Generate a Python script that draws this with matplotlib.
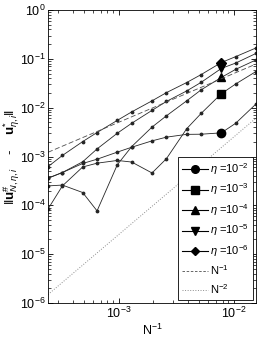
import matplotlib
matplotlib.use('Agg')
import matplotlib.pyplot as plt
import numpy as np
from matplotlib.lines import Line2D

plt.rcParams['font.family'] = ['Liberation Sans', 'DejaVu Sans']
plt.rcParams['mathtext.fontset'] = 'custom'
plt.rcParams['mathtext.rm'] = 'Liberation Sans'
plt.rcParams['mathtext.it'] = 'Liberation Sans:italic'
plt.rcParams['mathtext.bf'] = 'Liberation Sans:bold'

# number of points N (x axis is 1/N)
N = np.array([4096, 3072, 2048, 1536, 1024, 768, 512, 384, 256, 192, 128, 96, 64])

# error for each eta
err_e2 = [3.6e-4, 4.7e-4, 7.2e-4, 8.8e-4, 1.23e-3, 1.55e-3, 2.09e-3, 2.49e-3, 2.84e-3, 2.86e-3, 3.05e-3, 4.8e-3, 1.19e-2]
err_e3 = [8.4e-5, 2.5e-4, 6.1e-4, 7.3e-4, 8.3e-4, 7.7e-4, 4.6e-4, 9.0e-4, 3.7e-3, 7.6e-3, 1.93e-2, 3.06e-2, 5.5e-2]
err_e4 = [2.5e-4, 2.6e-4, 1.83e-4, 7.7e-5, 6.8e-4, 1.6e-3, 4.0e-3, 6.8e-3, 1.38e-2, 2.31e-2, 4.16e-2, 6.1e-2, 9.5e-2]
err_e5 = [3.6e-4, 4.7e-4, 7.8e-4, 1.43e-3, 3.0e-3, 4.8e-3, 8.8e-3, 1.34e-2, 2.2e-2, 3.29e-2, 6.36e-2, 8.2e-2, 0.129]
err_e6 = [6.2e-4, 1.05e-3, 2.02e-3, 3.1e-3, 5.5e-3, 8.2e-3, 1.38e-2, 2.03e-2, 3.27e-2, 4.75e-2, 8.4e-2, 0.111, 0.167]

series = [err_e2, err_e3, err_e4, err_e5, err_e6]
labels = [r'$\eta$ =10$^{-2}$', r'$\eta$ =10$^{-3}$', r'$\eta$ =10$^{-4}$',
          r'$\eta$ =10$^{-5}$', r'$\eta$ =10$^{-6}$']
markers = ['o', 's', '^', 'v', 'D']
N_mark = 128

# reference slopes
c1 = 5.0
c2 = 25.0

fig = plt.figure(figsize=(2.66, 3.41), dpi=100)
ax = fig.add_axes([0.1805, 0.1114, 0.7819, 0.8593])

x = 1.0 / N
handles = []
for err, m, lab in zip(series, markers, labels):
    err = np.array(err)
    ax.plot(x, err, '-', color='0.15', lw=0.6, marker='.', ms=3.5)
    i = np.where(N == N_mark)[0][0]
    ms = 5 if m == 'D' else 6
    ax.plot(x[i], err[i], marker=m, color='k', ms=ms, ls='none')
    handles.append(Line2D([], [], color='k', lw=0.8, marker=m, ms=ms - 0.5, label=lab))

ax.plot(x, c1 / N, '--', color='0.3', lw=0.6, dashes=(6, 3))
ax.plot(x, c2 / N.astype(float)**2, ':', color='0.55', lw=0.7)
handles.append(Line2D([], [], color='0.3', lw=0.6, ls='--', dashes=(3, 2), label=r'N$^{-1}$'))
handles.append(Line2D([], [], color='0.55', lw=0.7, ls=':', label=r'N$^{-2}$'))

ax.set_xscale('log')
ax.set_yscale('log')
ax.set_xlim(1.0 / 4096, 1.0 / 64)
ax.set_ylim(1e-6, 1e0)
ax.tick_params(which='both', direction='in', top=True, right=True, labelsize=9, pad=2)
ax.tick_params(which='major', length=3.5, width=0.6)
ax.tick_params(which='minor', length=2, width=0.5)
for s in ax.spines.values():
    s.set_linewidth(0.6)

ax.set_xlabel(r'N$^{-1}$', fontsize=9, labelpad=1)
ax.set_ylabel(r'$\|\mathbf{u}^{\#}_{N,\eta,i}$    -    $\mathbf{u}^{*}_{\eta,i}\|$', fontsize=9.5)
ax.yaxis.set_label_coords(-0.125, 0.5)

leg = ax.legend(handles=handles, loc='lower right', fontsize=8, fancybox=False,
                edgecolor='k', framealpha=1, borderaxespad=0.3, labelspacing=0.42,
                handlelength=2.3, handletextpad=0.2, borderpad=0.35)
leg.get_frame().set_linewidth(0.6)

fig.savefig('out.png', dpi=100)
